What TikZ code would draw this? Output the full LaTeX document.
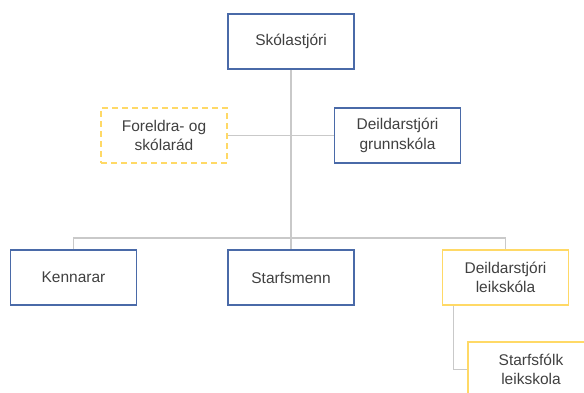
\documentclass[tikz,border=0pt]{standalone}
\usepackage{fontspec}
\setmainfont{Liberation Sans}
\usepackage{xcolor}
\usetikzlibrary{positioning,calc}

\definecolor{boxblue}{HTML}{4A6AA8}
\definecolor{boxgold}{HTML}{FFD966}
\definecolor{linegray}{HTML}{C9C9C9}
\definecolor{textgray}{HTML}{404040}

\begin{document}
\begin{tikzpicture}[
    x=1pt, y=-1pt,
    every node/.style={font=\fontsize{15.5}{19.5}\selectfont, text=textgray, align=center},
    box/.style={rectangle, draw=boxblue, line width=1.8pt, minimum width=126pt, minimum height=55pt, inner sep=0pt},
    goldbox/.style={box, draw=boxgold},
    council/.style={goldbox, dash pattern=on 6pt off 4pt},
    conn/.style={draw=linegray, line width=1.4pt},
]
    \useasboundingbox (0,0) rectangle (584,392);
    \clip (0,0) rectangle (584,392);

    % Head
    \node[box] (skola) at (291,41.5) {Skólastjóri};

    % Middle
    \node[council] (foreldra) at (164,135.5) {Foreldra- og\\skólarád};
    \node[box] (grunn) at (397.5,135.5) {Deildarstjóri\\grunnskóla};

    % Bottom row
    \node[box] (kenn) at (73.5,277.5) {Kennarar};
    \node[box] (starfs) at (291,277.5) {Starfsmenn};
    \node[goldbox] (leik) at (505.5,277.5) {Deildarstjóri\\leikskóla};

    % Below leikskóla
    \node[goldbox] (folk) at (531,369.5) {Starfsfólk\\leikskola};

    % Connectors
    \coordinate (bus) at (291,238);
    \draw[conn] (foreldra) -- (grunn);
    \draw[conn] (skola) -- (starfs);
    \draw[conn] (kenn.north) |- (bus) -| (leik.north);
    \draw[conn] ([xshift=12pt]leik.south west) |- (folk.west);
\end{tikzpicture}
\end{document}
